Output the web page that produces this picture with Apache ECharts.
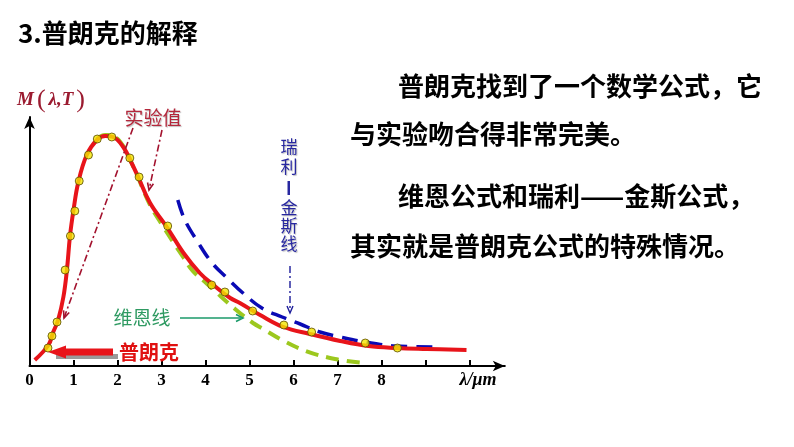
<!DOCTYPE html>
<html><head><meta charset="utf-8">
<script src="https://cdn.jsdelivr.net/npm/echarts@6/dist/echarts.min.js"></script>
<style>html,body{margin:0;padding:0;background:#fff}#c{width:794px;height:447px}</style>
</head><body><div id="c"></div>
<script>
// ---- data (wavelength in μm, radiance in arbitrary units) ----
const planckCurve = [[0.12,6],[0.43,21],[0.54,34],[0.65,46],[0.77,69],[0.85,96],[0.92,130],[1.0,156],[1.11,184],[1.3,211],[1.53,226],[1.72,230],[1.9,229],[2.13,219],[2.32,203],[2.47,189],[2.74,163],[3.12,139],[3.5,113],[3.87,93],[4.18,81],[4.56,68],[4.78,63],[5.24,51],[5.77,39],[6.37,32],[7.06,25],[7.7,20],[8.34,18],[9.03,17],[9.93,16]];
const wienCurve = [[1.53,227],[1.72,231],[1.9,230],[2.13,220],[2.32,203],[2.47,188],[2.74,161],[3.0,142],[3.49,109],[3.71,95],[3.99,84],[4.21,75],[4.67,57],[5.08,43],[5.31,37],[5.74,26],[6.28,15],[6.94,7],[7.6,3]];
const rayleighCurve = [[3.37,166],[3.53,146],[3.81,125],[4.15,103],[4.49,88],[4.85,73],[5.28,58],[5.74,49],[6.15,42],[6.6,34],[7.06,29],[7.62,24],[8.3,20],[9.28,19]];
const measured = [[0.42,18],[0.51,30],[0.625,44],[0.81,96],[0.93,130],[1.03,155],[1.13,185],[1.34,211],[1.54,227],[1.87,229],[2.28,208],[2.49,189],[3.14,140],[4.14,81],[4.44,74],[5.07,55],[5.78,41],[6.41,34],[7.63,23],[8.36,18]];
const tickValues = [0,1,2,3,4,5,6,7,8,9,10];
const tickLabelValues = [0,1,2,3,4,5,6,7,8];

const title = '3.普朗克的解释';
const bodyLines = ['普朗克找到了一个数学公式，它','与实验吻合得非常完美。','维恩公式和瑞利——金斯公式，','其实就是普朗克公式的特殊情况。'];

// ---- helpers for decorations ----
function arrowHead(tx, ty, fx, fy, len, half, color, w) {
  const dx = tx - fx, dy = ty - fy, L = Math.hypot(dx, dy);
  const ux = dx / L, uy = dy / L, px = -uy, py = ux;
  const bx = tx - ux * len, by = ty - uy * len;
  return {type:'polyline', silent:true, z:20, shape:{points:[[bx+px*half, by+py*half],[tx,ty],[bx-px*half, by-py*half]]},
          style:{stroke:color, lineWidth:w||1.5, fill:null}};
}
function seg(x1,y1,x2,y2,color,w,dash){
  return {type:'line', silent:true, z:20, shape:{x1,y1,x2,y2}, style:{stroke:color, lineWidth:w, lineDash:dash||null}};
}
function txt(x,y,s,font,fill,align,extra){
  return {type:'text', silent:true, z:25, x, y, style:Object.assign({text:s, font, fill, textAlign:align||'left', textVerticalAlign:'middle'}, extra||{})};
}
const cjk = '"Noto Sans CJK SC"';
const dashDot = [7,3,2,3];
const darkRed = '#a3122e';
const shadow = {textShadowColor:'rgba(0,0,0,0.25)', textShadowOffsetX:1, textShadowOffsetY:1, textShadowBlur:1};
const rjColor = '#2828a0';
const graphics = [
  txt(18, 33, title, 'bold 26px '+cjk, '#000'),
  txt(398, 86, bodyLines[0], 'bold 26px '+cjk, '#000'),
  txt(350, 134, bodyLines[1], 'bold 26px '+cjk, '#000'),
  txt(398, 196, bodyLines[2], 'bold 26px '+cjk, '#000'),
  txt(350, 246, bodyLines[3], 'bold 26px '+cjk, '#000'),
  // y-axis name
  {type:'text', silent:true, z:25, x:17, y:100, style:{text:'{i|M}{p|(}{i|λ,T}{p|)}', textVerticalAlign:'middle',
    rich:{i:{font:'italic bold 19px "Liberation Serif"', fill:'#9b1b30'}, p:{font:'26px "Liberation Serif"', fill:'#9b1b30', padding:[0,3,0,3]}}}},
  // x-axis name
  txt(478, 380, 'λ/μm', 'italic bold 18px "Liberation Serif"', '#000', 'center'),
  // 实验值
  txt(153, 118, '实验值', '19px '+cjk, '#b4283c', 'center', shadow),
  seg(133,128,64,318,darkRed,1.6,dashDot), arrowHead(64,318,133,128,7,3,darkRed,1.6),
  seg(162,130,149,190,darkRed,1.6,dashDot), arrowHead(149,190,162,130,7,3,darkRed,1.6),
  // 瑞利—金斯线 (vertical)
  txt(289, 147, '瑞', '17px '+cjk, rjColor, 'center', shadow),
  txt(289, 167, '利', '17px '+cjk, rjColor, 'center', shadow),
  {type:'rect', silent:true, z:25, shape:{x:287.5, y:181, width:2.5, height:14}, style:{fill:rjColor}},
  txt(289, 208, '金', '17px '+cjk, rjColor, 'center', shadow),
  txt(289, 226, '斯', '17px '+cjk, rjColor, 'center', shadow),
  txt(289, 244, '线', '17px '+cjk, rjColor, 'center', shadow),
  seg(290,266,290,312,'#1c1c9a',1.4,dashDot), arrowHead(290,313,290,266,7,3,'#1c1c9a',1.4),
  // 维恩线
  txt(142, 318, '维恩线', '19px '+cjk, '#2f9a62', 'center'),
  seg(180,318,241,318,'#1b9a6a',1.6), arrowHead(243,318,180,318,7,3.5,'#1b9a6a',1.6),
  // 普朗克 with block arrow
  {type:'rect', silent:true, z:18, shape:{x:56, y:354, width:62, height:5}, style:{fill:'#9a9a9a'}},
  {type:'polygon', silent:true, z:19, shape:{points:[[48,352],[66,345.5],[66,348.5],[113,348.5],[113,355.5],[66,355.5],[66,358.5]]}, style:{fill:'#e8141a'}},
  txt(149, 352, '普朗克', 'bold 20px '+cjk, '#e01010', 'center')
];

const chart = echarts.init(document.getElementById('c'), null, {renderer:'canvas'});
chart.setOption({
  animation:false,
  backgroundColor:'#fff',
  grid:{left:29.5, top:117, right:289.2, bottom:81, containLabel:false},
  xAxis:{type:'value', min:0, max:10.8, interval:1,
    axisLine:{show:true, lineStyle:{color:'#000', width:2}, symbol:['none','arrow'], symbolSize:[8,12]},
    axisTick:{show:true, inside:true, length:6, lineStyle:{color:'#000', width:2}, customValues:tickValues},
    axisLabel:{show:true, customValues:tickLabelValues, formatter:v=>String(v), margin:6, color:'#000', fontFamily:'Liberation Serif', fontWeight:'bold', fontSize:17},
    splitLine:{show:false}},
  yAxis:{type:'value', min:0, max:249,
    axisLine:{show:true, onZero:false, lineStyle:{color:'#000', width:2}, symbol:['none','arrow'], symbolSize:[8,12]},
    axisTick:{show:false}, axisLabel:{show:false}, splitLine:{show:false}},
  series:[
    {type:'line', data:wienCurve, smooth:0.4, showSymbol:false, z:3, lineStyle:{color:'#9cc81e', width:4, type:[13,8], cap:'butt'}},
    {type:'line', data:rayleighCurve, smooth:0.4, showSymbol:false, z:3, lineStyle:{color:'#0a0ab4', width:3.5, type:[16,9], cap:'butt'}},
    {type:'line', data:planckCurve, smooth:0.4, showSymbol:false, z:4, lineStyle:{color:'#e8141a', width:4}},
    {type:'scatter', data:measured, symbol:'circle', symbolSize:8, z:5, itemStyle:{color:'#f2e600', borderColor:'#5a4a00', borderWidth:1}}
  ],
  graphic:graphics
});
</script></body></html>
